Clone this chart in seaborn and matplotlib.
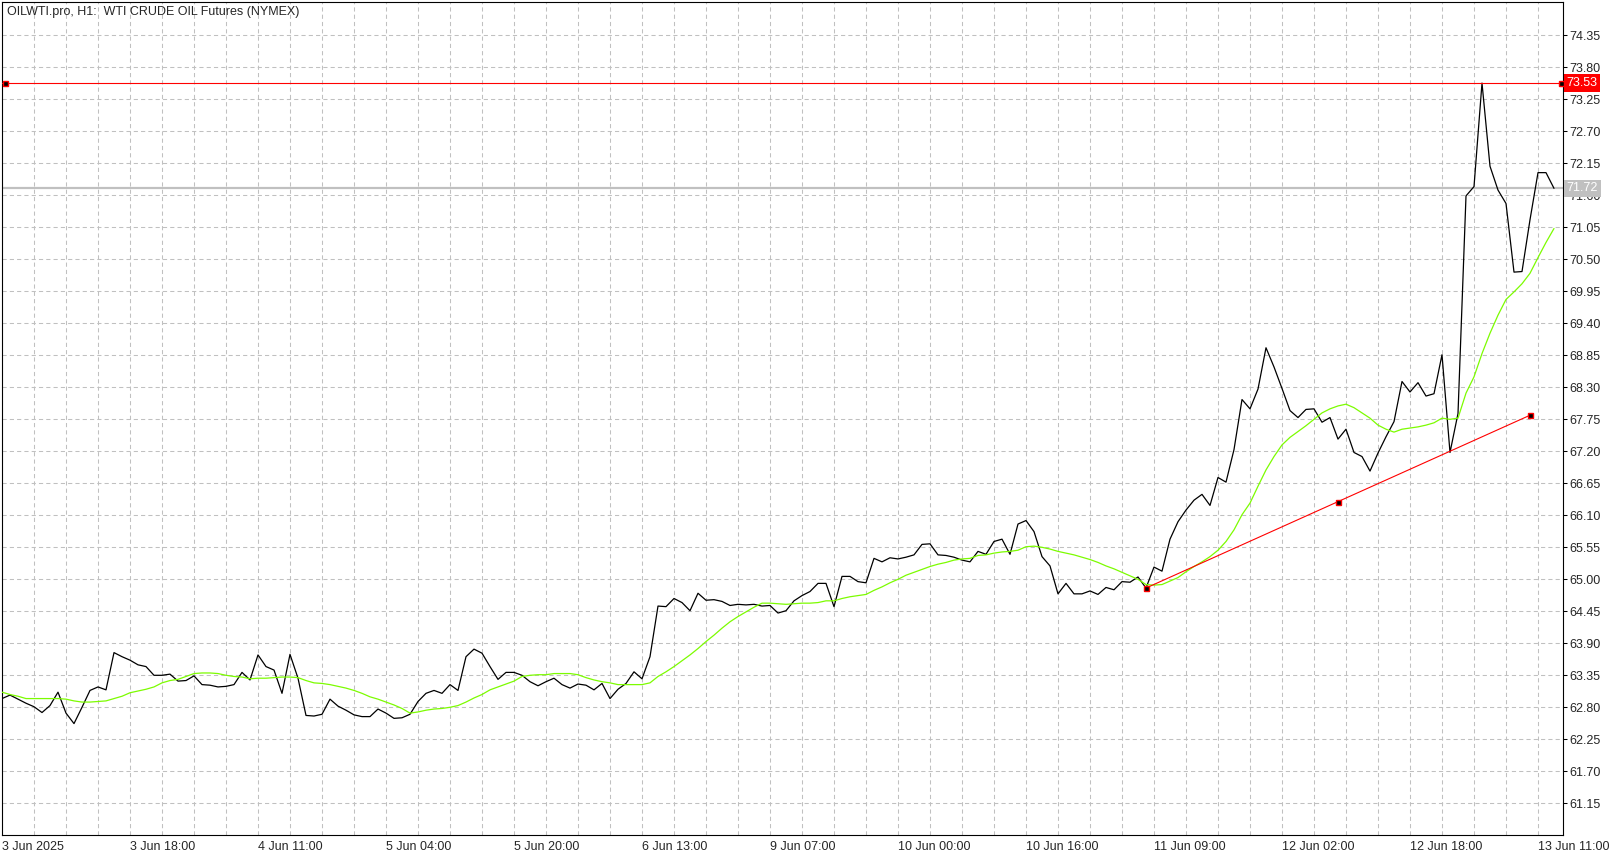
import numpy as np
import pandas as pd
import matplotlib
matplotlib.use("Agg")
import matplotlib.pyplot as plt
import matplotlib.transforms as mtransforms
import seaborn as sns

# ── DATA (hourly closes) ─────────────────────────────────────
close = [
    62.95, 63.01, 62.94, 62.87, 62.81, 62.71, 62.83, 63.06, 62.70, 62.52,
    62.80, 63.09, 63.15, 63.10, 63.74, 63.67, 63.61, 63.53, 63.50, 63.35,
    63.35, 63.37, 63.25, 63.26, 63.34, 63.19, 63.18, 63.15, 63.16, 63.19,
    63.40, 63.27, 63.70, 63.50, 63.44, 63.04, 63.71, 63.30, 62.66, 62.65,
    62.68, 62.94, 62.82, 62.75, 62.67, 62.64, 62.64, 62.77, 62.70, 62.61,
    62.62, 62.68, 62.90, 63.04, 63.09, 63.04, 63.19, 63.09, 63.67, 63.80,
    63.73, 63.50, 63.28, 63.40, 63.40, 63.35, 63.24, 63.17, 63.24, 63.30,
    63.19, 63.13, 63.20, 63.18, 63.10, 63.21, 62.95, 63.11, 63.21, 63.41,
    63.29, 63.67, 64.54, 64.53, 64.67, 64.60, 64.46, 64.76, 64.64, 64.65,
    64.62, 64.55, 64.57, 64.56, 64.57, 64.54, 64.55, 64.42, 64.46, 64.63,
    64.72, 64.79, 64.93, 64.93, 64.53, 65.05, 65.05, 64.96, 64.94, 65.36,
    65.30, 65.37, 65.35, 65.38, 65.42, 65.60, 65.61, 65.42, 65.41, 65.38,
    65.33, 65.30, 65.48, 65.43, 65.65, 65.69, 65.43, 65.95, 66.01, 65.82,
    65.39, 65.23, 64.75, 64.93, 64.75, 64.75, 64.80, 64.74, 64.86, 64.82,
    64.96, 64.95, 65.04, 64.85, 65.21, 65.14, 65.69, 65.99, 66.19, 66.36,
    66.46, 66.27, 66.75, 66.67, 67.23, 68.09, 67.93, 68.27, 68.98, 68.65,
    68.28, 67.90, 67.78, 67.92, 67.93, 67.70, 67.78, 67.41, 67.58, 67.18,
    67.11, 66.86, 67.17, 67.45, 67.71, 68.40, 68.22, 68.38, 68.15, 68.19,
    68.86, 67.18, 67.85, 71.59, 71.75, 73.53, 72.10, 71.69, 71.46, 70.28,
    70.29, 71.18, 71.99, 71.99, 71.72,
]

# moving average (green)
ma = [
    63.06, 63.02, 62.99, 62.95, 62.95, 62.95, 62.95, 62.95, 62.94, 62.91,
    62.89, 62.89, 62.90, 62.91, 62.95, 62.99, 63.05, 63.08, 63.11, 63.15,
    63.22, 63.26, 63.28, 63.33, 63.38, 63.39, 63.39, 63.38, 63.35, 63.33,
    63.32, 63.29, 63.30, 63.30, 63.31, 63.32, 63.32, 63.31, 63.26, 63.22,
    63.21, 63.19, 63.16, 63.13, 63.09, 63.04, 62.98, 62.94, 62.89, 62.84,
    62.78, 62.70, 62.72, 62.75, 62.77, 62.78, 62.80, 62.83, 62.89, 62.96,
    63.02, 63.10, 63.15, 63.20, 63.25, 63.33, 63.35, 63.36, 63.36, 63.38,
    63.38, 63.38, 63.36, 63.31, 63.27, 63.24, 63.22, 63.19, 63.19, 63.19,
    63.19, 63.22, 63.33, 63.41, 63.50, 63.60, 63.70, 63.81, 63.93, 64.04,
    64.16, 64.27, 64.36, 64.44, 64.52, 64.59, 64.59, 64.58, 64.57, 64.58,
    64.59, 64.59, 64.60, 64.63, 64.63, 64.67, 64.70, 64.72, 64.74, 64.81,
    64.87, 64.94, 65.00, 65.07, 65.12, 65.17, 65.22, 65.26, 65.29, 65.33,
    65.35, 65.36, 65.41, 65.42, 65.45, 65.47, 65.48, 65.50, 65.56, 65.57,
    65.55, 65.52, 65.48, 65.45, 65.42, 65.38, 65.34, 65.29, 65.23, 65.18,
    65.12, 65.06, 65.00, 64.91, 64.90, 64.91, 64.97, 65.03, 65.13, 65.22,
    65.30, 65.39, 65.50, 65.65, 65.85, 66.11, 66.31, 66.60, 66.88, 67.11,
    67.31, 67.44, 67.54, 67.64, 67.75, 67.86, 67.93, 67.98, 68.01, 67.95,
    67.86, 67.77, 67.65, 67.58, 67.53, 67.58, 67.60, 67.62, 67.65, 67.69,
    67.77, 67.75, 67.77, 68.20, 68.48, 68.88, 69.23, 69.54, 69.81, 69.94,
    70.08, 70.26, 70.53, 70.79, 71.03,
]

date_labels = ["3 Jun 2025", "3 Jun 18:00", "4 Jun 11:00", "5 Jun 04:00",
               "5 Jun 20:00", "6 Jun 13:00", "9 Jun 07:00", "10 Jun 00:00",
               "10 Jun 16:00", "11 Jun 09:00", "12 Jun 02:00", "12 Jun 18:00",
               "13 Jun 11:00"]
bars_per_label = 16

price_ticks = [61.15, 61.70, 62.25, 62.80, 63.35, 63.90, 64.45, 65.00, 65.55,
               66.10, 66.65, 67.20, 67.75, 68.30, 68.85, 69.40, 69.95, 70.50,
               71.05, 71.60, 72.15, 72.70, 73.25, 73.80, 74.35]

level_price = 73.53      # red horizontal line
last_price = 71.72       # grey bid line
trend_bars = [143, 191]  # red trendline anchors
trend_prices = [64.85, 67.82]

title = "OILWTI.pro, H1:  WTI CRUDE OIL Futures (NYMEX)"

# ── STYLE ────────────────────────────────────────────────────
sns.set_style("white")
plt.rcParams["font.family"] = ["Liberation Sans", "DejaVu Sans"]
FS = 9
GRID = "#c0c0c0"

df = pd.DataFrame({"bar": np.arange(len(close)), "close": close, "ma": ma})

W, H = 1619, 859
fig = plt.figure(figsize=(W / 100, H / 100), dpi=100)
ax = fig.add_axes([2 / W, 24 / H, 1561 / W, 833 / H])

sns.lineplot(data=df, x="bar", y="close", color="black", lw=0.9, ax=ax, zorder=3)
sns.lineplot(data=df, x="bar", y="ma", color="#7CFC00", lw=0.9, ax=ax, zorder=4)

ax.set_xlim(0, 195.125)
ax.set_ylim(60.605, 74.923)

# axes / ticks
ax.yaxis.tick_right()
ax.set_yticks(price_ticks)
ax.set_yticklabels([f"{p:.2f}" for p in price_ticks])
ax.set_xticks(np.arange(len(date_labels)) * bars_per_label)
ax.set_xticklabels(date_labels, ha="left")
ax.set_xticks(np.arange(0, 196, 4), minor=True)
ax.tick_params(axis="both", which="major", direction="out", length=3,
               width=0.75, color="black", labelsize=FS, pad=1.5)
ax.tick_params(axis="both", which="minor", length=0)
ax.set_xlabel("")
ax.set_ylabel("")

dash = (0, (4, 3))
ax.grid(True, axis="x", which="both", color=GRID, ls=dash, lw=0.75)
ax.grid(True, axis="y", which="major", color=GRID, ls=dash, lw=0.75)
ax.set_axisbelow(True)
for s in ax.spines.values():
    s.set_visible(True)
    s.set_color("black")
    s.set_linewidth(0.8)

# horizontal level + bid line
blend = mtransforms.blended_transform_factory(ax.transAxes, ax.transData)
ax.axhline(last_price, color=GRID, lw=1.6, zorder=2)
ax.axhline(level_price, color="red", lw=0.8, zorder=5)
mk = dict(ls="none", marker="s", ms=3.6, mfc="black", mec="red", mew=1.0)
ax.plot([0.002, 0.9985], [level_price, level_price], transform=blend,
        clip_on=False, zorder=6, **mk)

# price boxes on the scale (the bid box sits over the 71.60 label, as in the terminal)
box_kw = dict(transform=blend, color="white", fontsize=FS, ha="left", va="center",
              zorder=10, clip_on=False)
ax.text(1.0024, level_price, f"{level_price:.2f}",
        bbox=dict(boxstyle="square,pad=0.22", fc="red", ec="none"), **box_kw)
ax.text(1.0024, last_price, f"{last_price:.2f}",
        bbox=dict(boxstyle="square,pad=0.22", fc=GRID, ec="none"), **box_kw)

# trendline with its three anchor squares
ax.plot(trend_bars, trend_prices, color="red", lw=0.8, zorder=5)
ax.plot(trend_bars + [np.mean(trend_bars)], trend_prices + [np.mean(trend_prices)],
        zorder=6, **mk)

ax.text(5 / 1561, 1 - 4 / 833, title, transform=ax.transAxes, fontsize=FS,
        ha="left", va="top", zorder=10)

plt.savefig("out.png", dpi=100)
